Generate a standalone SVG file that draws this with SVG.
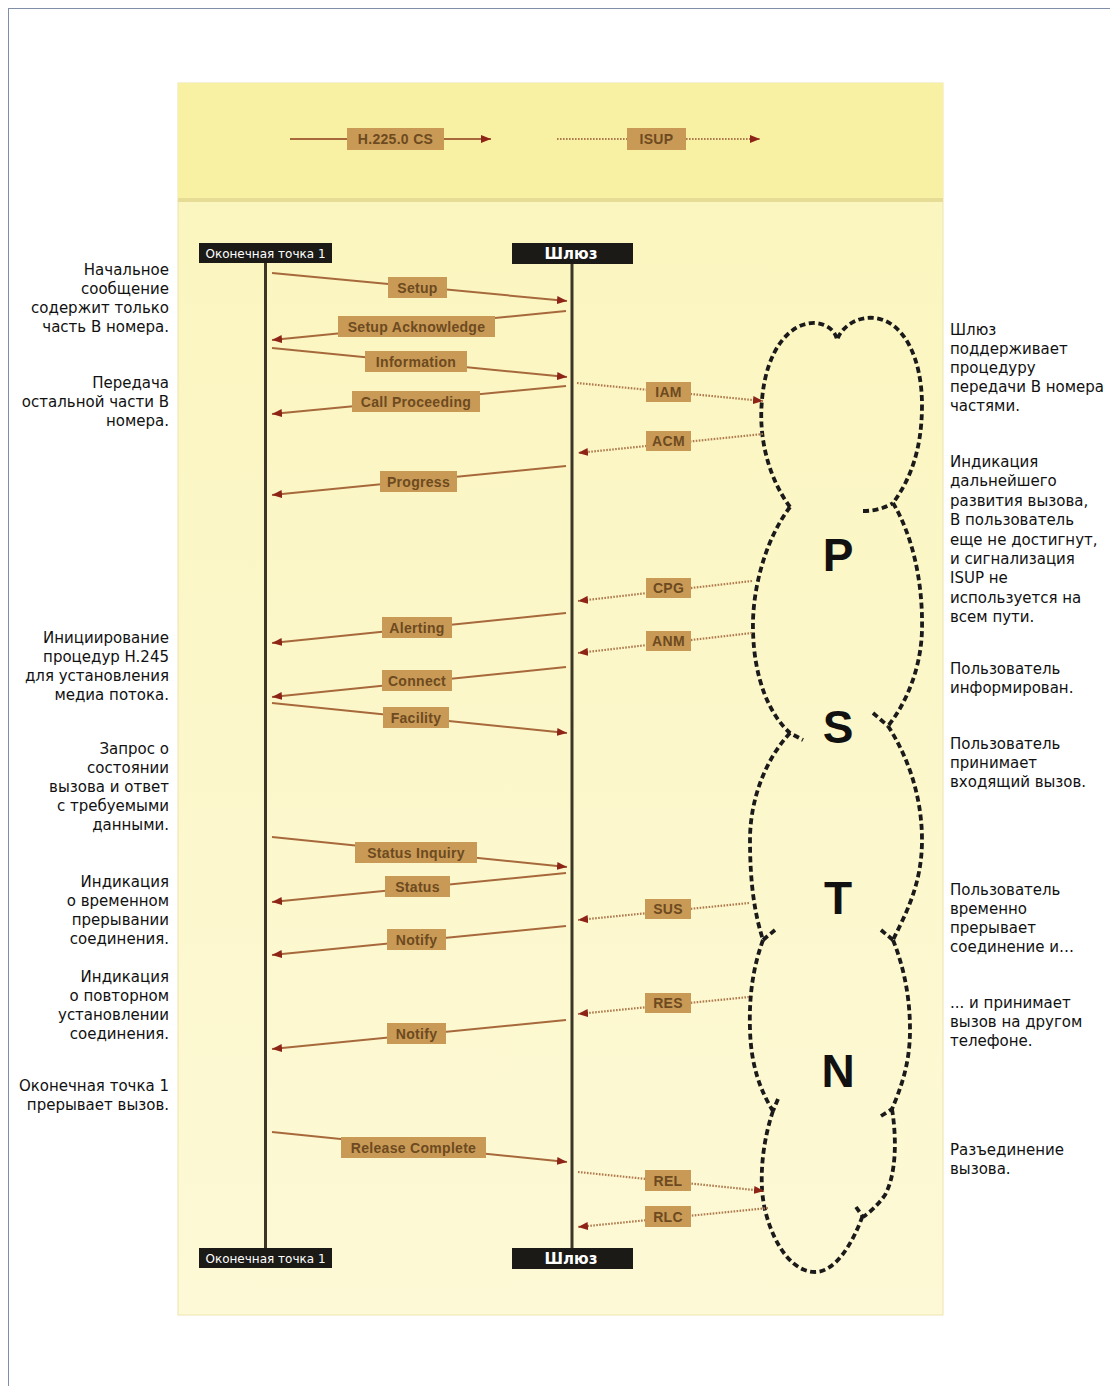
<svg xmlns="http://www.w3.org/2000/svg" width="1110" height="1386" viewBox="0 0 1110 1386">
<defs>
<linearGradient id="panelGrad" x1="0" y1="0" x2="0" y2="1">
<stop offset="0" stop-color="#fbf5bd"/>
<stop offset="1" stop-color="#fdf9d6"/>
</linearGradient>
<marker id="ah" markerUnits="userSpaceOnUse" markerWidth="11" markerHeight="8" refX="10" refY="4" orient="auto">
<path d="M0,0 L10,4 L0,8 z" fill="#8e2418"/>
</marker>
<style>
.note{font-family:"DejaVu Sans",Verdana,sans-serif;font-size:15px;fill:#111}
.noteL{text-anchor:end}
.msg{fill:none;stroke:#a7693b;stroke-width:2;marker-end:url(#ah)}
.isup{fill:none;stroke:#b07a4e;stroke-width:2.2;stroke-dasharray:1.6 1.4;marker-end:url(#ah)}
.lbl{fill:#c99a56}
.lt{font-family:"Liberation Sans",Arial,sans-serif;font-size:14px;font-weight:bold;fill:#6d4a1f;text-anchor:middle;letter-spacing:0.3px}
.hdr{fill:#1c1a17}
.ht{font-family:"DejaVu Sans",Verdana,sans-serif;fill:#ffffff;text-anchor:middle}
.life{stroke:#3b3626;stroke-width:3}
.cloud{fill:none;stroke:#1a1a1a;stroke-width:3.8;stroke-dasharray:6 3.5}
.big{font-family:"Liberation Sans",Arial,sans-serif;font-weight:bold;font-size:46px;fill:#111;text-anchor:middle}
</style>
</defs>
<rect x="0" y="0" width="1110" height="1386" fill="#ffffff"/>
<rect x="8.5" y="8.5" width="1110" height="1400" fill="none" stroke="#7f8faa" stroke-width="1"/>

<g id="panel">
<rect x="178" y="83" width="765" height="1232" fill="url(#panelGrad)" stroke="#ece4ad" stroke-width="1"/>
<rect x="178" y="83" width="765" height="116" fill="#f8f1a4"/>
<rect x="178" y="198" width="765" height="4" fill="#e6dc96"/>
</g>

<g id="legend">
<line x1="290" y1="139" x2="491" y2="139" class="msg"/>
<rect x="347" y="128" width="97" height="22" class="lbl"/>
<text x="395.5" y="144" class="lt">H.225.0 CS</text>
<line x1="557" y1="139" x2="760" y2="139" class="isup"/>
<rect x="627" y="128" width="59" height="22" class="lbl"/>
<text x="656.5" y="144" class="lt">ISUP</text>
</g>

<g id="endpoint1">
<line x1="265.5" y1="263" x2="265.5" y2="1248" class="life"/>
<rect x="199" y="243" width="133" height="20" class="hdr"/>
<text x="265.5" y="257.5" class="ht" font-size="12">Оконечная точка 1</text>
<rect x="199" y="1248" width="133" height="20" class="hdr"/>
<text x="265.5" y="1262.5" class="ht" font-size="12">Оконечная точка 1</text>
</g>

<g id="gateway">
<line x1="572" y1="263" x2="572" y2="1248" class="life"/>
<rect x="512" y="243" width="121" height="21" class="hdr"/>
<text x="571" y="259" class="ht" font-size="15" font-weight="bold">Шлюз</text>
<rect x="512" y="1248" width="121" height="21" class="hdr"/>
<text x="571" y="1264" class="ht" font-size="15" font-weight="bold">Шлюз</text>
</g>

<g id="pstn">
<path class="cloud" d="M790 507 C770 480,758 440,762 400 C766 350,790 322,815 323 C828 324,836 332,837 340 C842 326,858 316,875 318 C905 322,922 360,922 405 C922 450,910 480,893 503"/>
<path class="cloud" d="M863 511 C875 511,885 508,893 503"/>
<path class="cloud" d="M790 507 C765 540,752 590,753 630 C754 680,770 715,790 733 L803 740"/>
<path class="cloud" d="M893 503 C912 535,923 580,922 630 C921 670,905 705,888 726"/>
<path class="cloud" d="M873 713 L888 726"/>
<path class="cloud" d="M790 733 C765 760,750 800,750 840 C750 885,755 915,763 940"/>
<path class="cloud" d="M888 726 C910 760,922 800,922 840 C922 885,905 915,893 940"/>
<path class="cloud" d="M775 930 L763 940"/>
<path class="cloud" d="M881 930 L893 940"/>
<path class="cloud" d="M763 940 C752 970,749 1000,750 1030 C751 1065,760 1090,773 1111"/>
<path class="cloud" d="M893 940 C905 970,910 1000,910 1030 C910 1065,900 1090,892 1109"/>
<path class="cloud" d="M778 1099 L773 1111"/>
<path class="cloud" d="M881 1116 L892 1109"/>
<path class="cloud" d="M773 1111 C763 1140,758 1180,765 1210 C775 1250,795 1272,815 1272 C835 1272,852 1245,863 1215"/>
<path class="cloud" d="M892 1109 C897 1140,896 1175,885 1195 C878 1205,870 1212,863 1217"/>
<path class="cloud" d="M856 1207 L863 1217"/>
<text x="838" y="571" class="big">P</text>
<text x="838" y="743" class="big">S</text>
<text x="838" y="914" class="big">T</text>
<text x="838" y="1087" class="big">N</text>
</g>

<g id="connectors">
<line x1="272" y1="273" x2="567" y2="301" class="msg"/>
<rect x="388" y="277" width="59" height="21" class="lbl"/><text x="417.5" y="292.5" class="lt">Setup</text>
<line x1="566" y1="311" x2="272" y2="340" class="msg"/>
<rect x="338" y="316" width="157" height="21" class="lbl"/><text x="416.5" y="331.5" class="lt">Setup Acknowledge</text>
<line x1="272" y1="348" x2="567" y2="377" class="msg"/>
<rect x="365" y="351" width="102" height="21" class="lbl"/><text x="416" y="366.5" class="lt">Information</text>
<line x1="566" y1="386" x2="272" y2="414" class="msg"/>
<rect x="352" y="391" width="128" height="21" class="lbl"/><text x="416" y="406.5" class="lt">Call Proceeding</text>
<line x1="577" y1="383" x2="763" y2="401" class="isup"/>
<rect x="646" y="382" width="45" height="20" class="lbl"/><text x="668.5" y="397" class="lt">IAM</text>
<line x1="763" y1="434" x2="578" y2="453" class="isup"/>
<rect x="646" y="431" width="45" height="20" class="lbl"/><text x="668.5" y="446" class="lt">ACM</text>
<line x1="566" y1="466" x2="272" y2="495" class="msg"/>
<rect x="380" y="471" width="77" height="21" class="lbl"/><text x="418.5" y="486.5" class="lt">Progress</text>
<line x1="752" y1="581" x2="578" y2="601" class="isup"/>
<rect x="646" y="578" width="45" height="20" class="lbl"/><text x="668.5" y="593" class="lt">CPG</text>
<line x1="566" y1="613" x2="272" y2="643" class="msg"/>
<rect x="382" y="617" width="70" height="21" class="lbl"/><text x="417" y="632.5" class="lt">Alerting</text>
<line x1="752" y1="633" x2="578" y2="653" class="isup"/>
<rect x="646" y="631" width="45" height="20" class="lbl"/><text x="668.5" y="646" class="lt">ANM</text>
<line x1="566" y1="667" x2="272" y2="697" class="msg"/>
<rect x="382" y="670" width="70" height="21" class="lbl"/><text x="417" y="685.5" class="lt">Connect</text>
<line x1="272" y1="703" x2="567" y2="733" class="msg"/>
<rect x="383" y="707" width="66" height="21" class="lbl"/><text x="416" y="722.5" class="lt">Facility</text>
<line x1="272" y1="837" x2="567" y2="867" class="msg"/>
<rect x="355" y="842" width="122" height="21" class="lbl"/><text x="416" y="857.5" class="lt">Status Inquiry</text>
<line x1="566" y1="873" x2="272" y2="902" class="msg"/>
<rect x="385" y="876" width="65" height="21" class="lbl"/><text x="417.5" y="891.5" class="lt">Status</text>
<line x1="749" y1="903" x2="578" y2="920" class="isup"/>
<rect x="645" y="899" width="46" height="20" class="lbl"/><text x="668" y="914" class="lt">SUS</text>
<line x1="566" y1="926" x2="272" y2="955" class="msg"/>
<rect x="387" y="929" width="59" height="21" class="lbl"/><text x="416.5" y="944.5" class="lt">Notify</text>
<line x1="749" y1="997" x2="578" y2="1014" class="isup"/>
<rect x="645" y="993" width="46" height="20" class="lbl"/><text x="668" y="1008" class="lt">RES</text>
<line x1="566" y1="1020" x2="272" y2="1049" class="msg"/>
<rect x="387" y="1023" width="59" height="21" class="lbl"/><text x="416.5" y="1038.5" class="lt">Notify</text>
<line x1="272" y1="1132" x2="567" y2="1162" class="msg"/>
<rect x="341" y="1137" width="145" height="21" class="lbl"/><text x="413.5" y="1152.5" class="lt">Release Complete</text>
<line x1="578" y1="1172" x2="764" y2="1191" class="isup"/>
<rect x="645" y="1170" width="46" height="21" class="lbl"/><text x="668" y="1185.5" class="lt">REL</text>
<line x1="768" y1="1208" x2="578" y2="1227" class="isup"/>
<rect x="645" y="1206" width="46" height="21" class="lbl"/><text x="668" y="1221.5" class="lt">RLC</text>
</g>

<g id="notes-left" class="note noteL">
<text x="169" y="275">Начальное</text>
<text x="169" y="294">сообщение</text>
<text x="169" y="313">содержит только</text>
<text x="169" y="332">часть В номера.</text>
<text x="169" y="388">Передача</text>
<text x="169" y="407">остальной части В</text>
<text x="169" y="426">номера.</text>
<text x="169" y="643">Инициирование</text>
<text x="169" y="662">процедур H.245</text>
<text x="169" y="681">для установления</text>
<text x="169" y="700">медиа потока.</text>
<text x="169" y="754">Запрос о</text>
<text x="169" y="773">состоянии</text>
<text x="169" y="792">вызова и ответ</text>
<text x="169" y="811">с требуемыми</text>
<text x="169" y="830">данными.</text>
<text x="169" y="887">Индикация</text>
<text x="169" y="906">о временном</text>
<text x="169" y="925">прерывании</text>
<text x="169" y="944">соединения.</text>
<text x="169" y="982">Индикация</text>
<text x="169" y="1001">о повторном</text>
<text x="169" y="1020">установлении</text>
<text x="169" y="1039">соединения.</text>
<text x="169" y="1091">Оконечная точка 1</text>
<text x="169" y="1110">прерывает вызов.</text>
</g>

<g id="notes-right" class="note">
<text x="950" y="335">Шлюз</text>
<text x="950" y="354">поддерживает</text>
<text x="950" y="373">процедуру</text>
<text x="950" y="392">передачи В номера</text>
<text x="950" y="411">частями.</text>
<text x="950" y="467">Индикация</text>
<text x="950" y="486.4">дальнейшего</text>
<text x="950" y="505.8">развития вызова,</text>
<text x="950" y="525.2">В пользователь</text>
<text x="950" y="544.6">еще не достигнут,</text>
<text x="950" y="564">и сигнализация</text>
<text x="950" y="583.4">ISUP не</text>
<text x="950" y="602.8">используется на</text>
<text x="950" y="622.2">всем пути.</text>
<text x="950" y="674">Пользователь</text>
<text x="950" y="693">информирован.</text>
<text x="950" y="749">Пользователь</text>
<text x="950" y="768">принимает</text>
<text x="950" y="787">входящий вызов.</text>
<text x="950" y="895">Пользователь</text>
<text x="950" y="914">временно</text>
<text x="950" y="933">прерывает</text>
<text x="950" y="952">соединение и…</text>
<text x="950" y="1008">... и принимает</text>
<text x="950" y="1027">вызов на другом</text>
<text x="950" y="1046">телефоне.</text>
<text x="950" y="1155">Разъединение</text>
<text x="950" y="1174">вызова.</text>
</g>
</svg>
